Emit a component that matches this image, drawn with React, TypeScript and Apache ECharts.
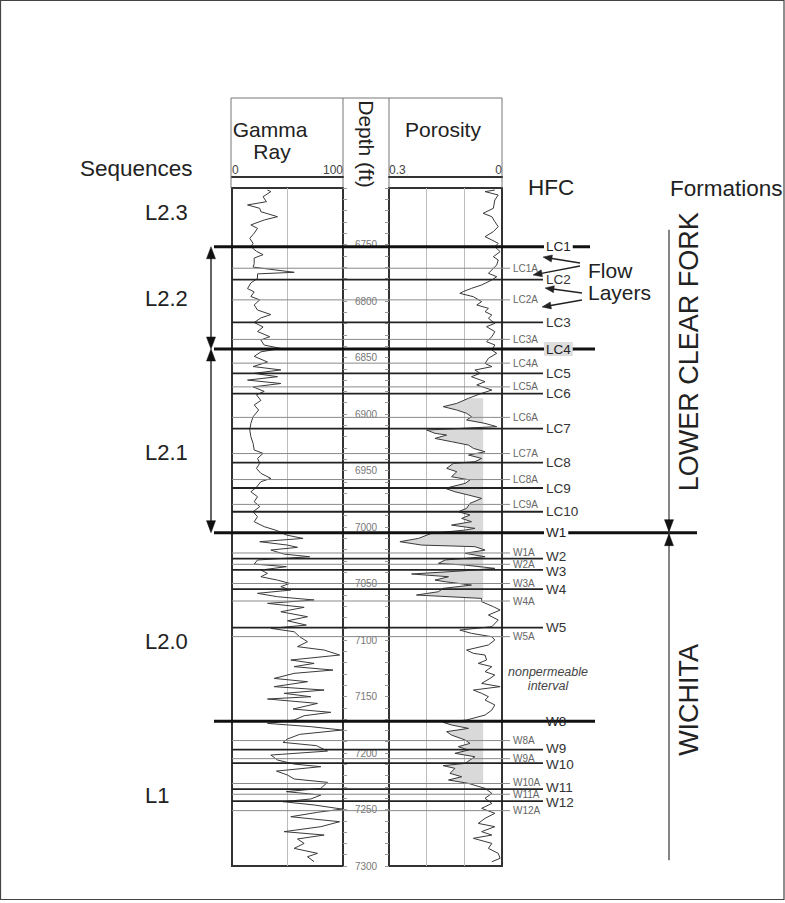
import { useEffect, useRef } from 'react';
import * as echarts from 'echarts';

// ---------------- data ----------------
const depthRange = [6700, 7300];
const depthTickLabels = [6750, 6800, 6850, 6900, 6950, 7000, 7050, 7100, 7150, 7200, 7250, 7300];
const gammaScale = [0, 100];
const porosityScale = [0.3, 0];

const gammaDepth = [
  6701.8, 6703.2, 6707.7, 6712.1, 6715, 6718, 6721, 6725.4, 6728.3, 6732.7,
  6735.7, 6740, 6744.5, 6749, 6752, 6756, 6759, 6762, 6767, 6770,
  6774.6, 6776, 6780, 6784, 6789, 6792, 6796, 6799, 6803.5, 6808,
  6812, 6815, 6819, 6823, 6827, 6831.6, 6834.5, 6839, 6842, 6845,
  6849, 6854, 6858, 6861, 6864, 6867, 6870, 6873, 6876, 6880,
  6883, 6888, 6892, 6896.5, 6902.4, 6908.3, 6914.2, 6920.1, 6926, 6931.9,
  6934.8, 6939.3, 6943.7, 6948.1, 6952.5, 6957, 6959.9, 6964.9, 6968.8, 6973.2,
  6977.6, 6982, 6986.5, 6990.9, 6995.3, 6999.7, 7003.3, 7007.1, 7010.1, 7013,
  7016, 7018, 7020.4, 7024, 7026.3, 7029.2, 7032.8, 7035.1, 7038.1, 7041,
  7044, 7047, 7049.9, 7052.8, 7055.8, 7058.7, 7061.7, 7064.6, 7067.6, 7071.1,
  7075, 7079.4, 7083, 7086.8, 7089.7, 7092.7, 7097.1, 7101.5, 7105.9, 7108.9,
  7113.3, 7117.7, 7120.7, 7123.6, 7126.6, 7129.5, 7134, 7136.9, 7141.3, 7144.3,
  7147.2, 7150.2, 7152.2, 7156.1, 7161.1, 7164, 7167, 7170.8, 7173.8, 7176.7,
  7179.7, 7183.5, 7187.6, 7190.6, 7193.5, 7198.3, 7201.8, 7206.2, 7209.8, 7212.1,
  7216, 7219.5, 7223, 7226, 7231.3, 7234.2, 7237.2, 7240.7, 7243.1, 7246,
  7249.6, 7252.5, 7256.4, 7260.8, 7265.2, 7269.6, 7272.6, 7276.1, 7280, 7284.4,
  7288.8, 7291.8, 7296.2,
];
const gammaApi = [
  32, 35, 28, 31, 14, 25, 26, 41, 29, 17,
  23, 20, 16, 19, 17, 22, 28, 20, 20, 19,
  56, 23, 23, 17, 14, 20, 17, 25, 20, 23,
  35, 26, 20, 28, 23, 34, 26, 29, 44, 26,
  20, 32, 19, 44, 20, 41, 14, 44, 19, 29,
  22, 26, 20, 24, 19, 17, 16, 17, 19, 20,
  28, 23, 25, 22, 26, 35, 26, 22, 17, 23,
  20, 25, 19, 23, 20, 29, 41, 49, 64, 25,
  50, 59, 35, 47, 70, 23, 20, 49, 26, 32,
  26, 41, 52, 44, 53, 23, 41, 74, 32, 65,
  44, 68, 50, 67, 35, 56, 61, 68, 59, 83,
  97, 53, 74, 56, 91, 56, 38, 68, 38, 83,
  47, 71, 32, 77, 55, 89, 65, 56, 32, 71,
  99, 61, 50, 46, 76, 86, 35, 41, 56, 80,
  40, 50, 56, 86, 80, 49, 80, 71, 46, 74,
  99, 77, 53, 97, 80, 47, 83, 59, 65, 56,
  77, 68, 74,
];

const porosityDepth = [
  6701.8, 6703.2, 6706.2, 6710.6, 6718, 6722.4, 6725.4, 6729.8, 6734.2, 6738.6,
  6743.1, 6746, 6749, 6752, 6756.3, 6760.8, 6763.7, 6768.1, 6775.5, 6778.5,
  6781.4, 6785.8, 6788.8, 6791.7, 6793.2, 6796.2, 6800.6, 6803.5, 6806.5, 6809.4,
  6812.4, 6815.3, 6819.8, 6822.7, 6827.1, 6831.6, 6836, 6838.9, 6843.4, 6846.3,
  6850.7, 6855.2, 6858.1, 6861.1, 6864, 6867, 6871.4, 6874.3, 6878.8, 6881.7,
  6886.1, 6890.6, 6893.5, 6896.5, 6899.4, 6902.4, 6905.3, 6908.3, 6911.2, 6914.2,
  6917.1, 6918.6, 6921.6, 6924.5, 6927.5, 6930.4, 6933.4, 6936.3, 6939.3, 6942.2,
  6943.7, 6948.1, 6951.1, 6955.5, 6958.4, 6961.4, 6965.8, 6968.8, 6971.7, 6974.7,
  6979.1, 6983.5, 6986.5, 6989.4, 6992.4, 6995.3, 6998.3, 7001.2, 7002.7, 7005.6,
  7010.1, 7013, 7016, 7017.4, 7020.4, 7023.3, 7026.3, 7029.2, 7032.2, 7033.7,
  7036.6, 7038.7, 7041.6, 7044, 7047, 7048.4, 7051.4, 7054.3, 7057.3, 7060.2,
  7063.2, 7066.1, 7070.5, 7073.5, 7077.9, 7082.3, 7088.2, 7091.2, 7094.1, 7097.1,
  7100, 7104.4, 7108.9, 7111.8, 7113.3, 7117.7, 7120.7, 7123.6, 7128, 7131,
  7134, 7138.4, 7141.3, 7144.3, 7147.2, 7150.2, 7153.1, 7157.5, 7162, 7166.4,
  7170.8, 7172.9, 7175.2, 7178.2, 7181.1, 7184.1, 7188.5, 7191.5, 7194.4, 7197.4,
  7200.3, 7203.3, 7206.2, 7209.2, 7211.2, 7213.6, 7218, 7221, 7223.9, 7226.9,
  7231.3, 7235.7, 7240.1, 7244.6, 7249, 7253.4, 7257.8, 7262.3, 7265.2, 7269.6,
  7272.6, 7275.5, 7280, 7284.4, 7288.8, 7293.2, 7296.2,
];
const porosityFrac = [
  0.019, 0.045, 0.010, 0.019, 0.023, 0.050, 0.027, 0.019, 0.010, 0.023,
  0.045, 0.027, 0.010, 0.019, 0.005, 0.023, 0.010, 0.014, 0.036, 0.014,
  0.027, 0.054, 0.081, 0.103, 0.112, 0.076, 0.054, 0.067, 0.036, 0.045,
  0.027, 0.036, 0.019, 0.041, 0.019, 0.027, 0.041, 0.019, 0.027, 0.014,
  0.036, 0.045, 0.027, 0.072, 0.058, 0.081, 0.045, 0.067, 0.027, 0.054,
  0.089, 0.120, 0.156, 0.120, 0.094, 0.081, 0.094, 0.045, 0.014, 0.200,
  0.178, 0.147, 0.178, 0.134, 0.089, 0.076, 0.045, 0.089, 0.054, 0.072,
  0.129, 0.147, 0.120, 0.134, 0.085, 0.098, 0.151, 0.125, 0.089, 0.054,
  0.085, 0.094, 0.116, 0.085, 0.107, 0.081, 0.134, 0.072, 0.098, 0.187,
  0.222, 0.271, 0.213, 0.072, 0.045, 0.098, 0.045, 0.151, 0.169, 0.098,
  0.019, 0.098, 0.240, 0.142, 0.178, 0.151, 0.081, 0.156, 0.169, 0.227,
  0.054, 0.054, 0.023, 0.005, 0.036, 0.010, 0.027, 0.112, 0.081, 0.027,
  0.019, 0.036, 0.094, 0.076, 0.045, 0.041, 0.063, 0.027, 0.045, 0.019,
  0.032, 0.054, 0.005, 0.076, 0.054, 0.036, 0.045, 0.019, 0.027, 0.045,
  0.094, 0.156, 0.134, 0.089, 0.147, 0.134, 0.098, 0.085, 0.116, 0.089,
  0.125, 0.072, 0.085, 0.098, 0.156, 0.125, 0.138, 0.107, 0.142, 0.089,
  0.045, 0.027, 0.045, 0.027, 0.054, 0.019, 0.045, 0.063, 0.019, 0.054,
  0.027, 0.076, 0.027, 0.036, 0.010, 0.005, 0.027,
];

const surfaceNames = [
  'LC1', 'LC1A', 'LC2', 'LC2A', 'LC3', 'LC3A', 'LC4', 'LC4A', 'LC5', 'LC5A',
  'LC6', 'LC6A', 'LC7', 'LC7A', 'LC8', 'LC8A', 'LC9', 'LC9A', 'LC10', 'W1',
  'W1A', 'W2', 'W2A', 'W3', 'W3A', 'W4', 'W4A', 'W5', 'W5A', 'W8',
  'W8A', 'W9', 'W9A', 'W10', 'W10A', 'W11', 'W11A', 'W12', 'W12A',
];
const surfaceDepths = [
  6752, 6771, 6781, 6799, 6819, 6834, 6842.5, 6855, 6864, 6876,
  6882, 6903, 6913, 6935, 6943, 6958, 6965.5, 6980, 6986.5, 7005,
  7023, 7028, 7033, 7038, 7050, 7055, 7065.5, 7089, 7097, 7172,
  7189, 7197, 7205, 7209, 7227, 7232, 7236.5, 7242.5, 7251,
];
const sequenceBoundaries = ['LC1', 'LC4', 'W1', 'W8'];
const sequenceArrowSpans = [['LC1', 'LC4'], ['LC4', 'W1']];
const sequenceNames = ['L2.3', 'L2.2', 'L2.1', 'L2.0', 'L1'];
const sequenceLabelDepths = [6722, 6798, 6934, 7101, 7238];
const formationNames = ['LOWER CLEAR FORK', 'WICHITA'];
const formationLabelDepths = [6845, 7153];
const formationBoundary = 'W1';
const formationSpan = [6737, 7295];
const shadedIntervals = [[6884, 7066], [7172, 7228]];
const porosityCutoff = 0.05;

// ---------------- layout / style ----------------
const FONT = "'Liberation Sans', Arial, Helvetica, sans-serif";
const PLOT_TOP = 188;
const PLOT_H = 678;
const GR_LEFT = 232, GR_W = 111;
const DEPTH_LEFT = 343, DEPTH_W = 46;
const POR_LEFT = 389, POR_W = 113;
const seqLineEnds = [590, 595, 697, 595];
const seqLabelBg = ['#ffffff', '#dedede', '#ffffff', undefined];
const labelNudge: Record<string, number> = { W2: -2, W3: 1.5, W9: -1.5, W10: 1.5, W11: -1.5, W12: 1.5, W10A: -1, W11A: 0.5 };

function head(tx: number, ty: number, dx: number, dy: number, len: number, hw: number, fill = '#111') {
  const nx = -dy, ny = dx;
  const bx = tx - dx * len, by = ty - dy * len;
  return {
    type: 'polygon',
    silent: true,
    shape: { points: [[tx, ty], [bx + nx * hw, by + ny * hw], [bx - nx * hw, by - ny * hw]] },
    style: { fill, stroke: fill, lineWidth: 0.5 },
  };
}

function txt(text: string, x: number, y: number, size: number, o: any = {}) {
  const align = o.align || 'left';
  return {
    type: 'text',
    x, y,
    rotation: o.rot || 0,
    silent: true,
    z: 20,
    style: {
      text,
      fill: o.fill || '#222',
      fontSize: size,
      fontFamily: FONT,
      fontStyle: o.italic ? 'italic' : 'normal',
      align, textAlign: align,
      verticalAlign: 'middle', textVerticalAlign: 'middle',
      backgroundColor: o.bg,
      padding: o.bg ? [0, 2] : 0,
    },
  };
}

const flowArrows = [
  [580, 263, 543, 257],
  [580, 266, 533, 275],
  [582, 293, 545, 288],
  [582, 300, 542, 307],
];

function buildOption(): any {
  const depthOf = (n: string) => surfaceDepths[surfaceNames.indexOf(n)];
  const gammaData = gammaDepth.map((d, i) => [gammaApi[i], d]);
  const porData = porosityDepth.map((d, i) => [porosityFrac[i], d]);

  const gridBox = { show: true, borderColor: '#333', borderWidth: 2, backgroundColor: 'transparent' };
  const yBase = { type: 'value', min: depthRange[0], max: depthRange[1], inverse: true };

  const graphic: any[] = [
    { type: 'rect', silent: true, shape: { x: 0.5, y: 0.5, width: 783.5, height: 899 }, style: { fill: 'none', stroke: '#444', lineWidth: 1.2 } },
    { type: 'line', silent: true, shape: { x1: 231, y1: 98, x2: 502, y2: 98 }, style: { stroke: '#777', lineWidth: 1 } },
    ...[231, 343, 389, 502].map((x) => ({ type: 'line', silent: true, shape: { x1: x, y1: 98, x2: x, y2: PLOT_TOP }, style: { stroke: '#777', lineWidth: 1 } })),
    txt('Sequences', 80, 168, 22.5),
    txt('HFC', 528, 187, 22.5),
    txt('Formations', 670, 188, 22.5),
    txt('Gamma', 270, 129, 21, { align: 'center' }),
    txt('Ray', 272, 151, 21, { align: 'center' }),
    txt('Porosity', 443, 129, 21, { align: 'center' }),
    txt('Depth (ft)', 366, 144, 21, { align: 'center', rot: -Math.PI / 2 }),
    txt('Flow', 588, 270, 21),
    txt('Layers', 588, 292, 21),
    txt('nonpermeable', 548, 672, 12.5, { align: 'center', italic: true, fill: '#444' }),
    txt('interval', 548, 686, 12.5, { align: 'center', italic: true, fill: '#444' }),
  ];
  flowArrows.forEach(([x1, y1, x2, y2]) => {
    const L = Math.hypot(x2 - x1, y2 - y1);
    const dx = (x2 - x1) / L, dy = (y2 - y1) / L;
    graphic.push({ type: 'line', silent: true, shape: { x1, y1, x2: x2 - dx * 6, y2: y2 - dy * 6 }, style: { stroke: '#222', lineWidth: 1.4 } });
    graphic.push(head(x2, y2, dx, dy, 9, 3.5, '#222'));
  });

  return {
    animation: false,
    backgroundColor: '#ffffff',
    grid: [
      { left: GR_LEFT, top: PLOT_TOP, width: GR_W, height: PLOT_H, ...gridBox },
      { left: DEPTH_LEFT, top: PLOT_TOP, width: DEPTH_W, height: PLOT_H, show: false },
      { left: POR_LEFT, top: PLOT_TOP, width: POR_W, height: PLOT_H, ...gridBox },
      { left: 0, top: PLOT_TOP, width: 785, height: PLOT_H, show: false },
    ],
    xAxis: [
      {
        gridIndex: 0, type: 'value', min: 0, max: 100, interval: 50, position: 'top', offset: 11,
        axisLine: { show: true, onZero: false, lineStyle: { color: '#333', width: 2 } },
        axisTick: { show: false },
        axisLabel: {
          margin: 1, fontSize: 12, color: '#444', fontFamily: FONT,
          alignMinLabel: 'left', alignMaxLabel: 'right',
          formatter: (v: number) => (gammaScale.includes(v) ? String(v) : ''),
        },
        splitLine: { show: true, showMinLine: false, showMaxLine: false, lineStyle: { color: '#bdbdbd', width: 1 } },
      },
      { gridIndex: 1, type: 'value', min: 0, max: 1, show: false },
      {
        gridIndex: 2, type: 'value', min: 0, max: 0.3, interval: 0.1, inverse: true, position: 'top', offset: 11,
        axisLine: { show: true, onZero: false, lineStyle: { color: '#333', width: 2 } },
        axisTick: { show: false },
        axisLabel: {
          margin: 1, fontSize: 12, color: '#444', fontFamily: FONT,
          alignMinLabel: 'right', alignMaxLabel: 'left',
          formatter: (v: number) => {
            const m = porosityScale.find((s) => Math.abs(s - v) < 1e-6);
            return m === undefined ? '' : String(m);
          },
        },
        splitLine: { show: true, showMinLine: false, showMaxLine: false, lineStyle: { color: '#bdbdbd', width: 1 } },
      },
      { gridIndex: 3, type: 'value', min: 0, max: 785, show: false },
    ],
    yAxis: [
      { gridIndex: 0, ...yBase, show: false },
      {
        gridIndex: 1, ...yBase, interval: 50, position: 'left',
        axisLine: { show: false },
        splitLine: { show: false },
        axisTick: { show: true, inside: true, length: 4, lineStyle: { color: '#999' } },
        minorTick: { show: true, splitNumber: 5, length: 4, lineStyle: { color: '#999' } },
        axisLabel: {
          inside: true, margin: 23, align: 'center', color: '#777', fontSize: 10, fontFamily: FONT,
          formatter: (v: number) => (depthTickLabels.includes(v) ? String(v) : ''),
        },
      },
      {
        gridIndex: 1, ...yBase, interval: 50, position: 'right',
        axisLine: { show: false },
        splitLine: { show: false },
        axisTick: { show: true, inside: true, length: 4, lineStyle: { color: '#999' } },
        minorTick: { show: true, splitNumber: 5, length: 4, lineStyle: { color: '#999' } },
        axisLabel: { show: false },
      },
      { gridIndex: 2, ...yBase, show: false },
      { gridIndex: 3, ...yBase, show: false },
    ],
    graphic,
    series: [
      {
        type: 'custom', name: 'pay', xAxisIndex: 2, yAxisIndex: 3, z: 1, silent: true,
        data: shadedIntervals.map((iv, i) => [porosityCutoff, iv[0], i]),
        renderItem: (_p: any, api: any) => {
          const [a, b] = shadedIntervals[api.value(2)];
          const pts: number[][] = [];
          let first = -1, last = -1;
          porosityDepth.forEach((d, k) => {
            if (d >= a && d <= b) {
              if (first < 0) first = d;
              last = d;
              pts.push(api.coord([Math.max(porosityFrac[k], porosityCutoff), d]));
            }
          });
          pts.unshift(api.coord([porosityCutoff, first]));
          pts.push(api.coord([porosityCutoff, last]));
          return { type: 'polygon', shape: { points: pts }, style: { fill: '#d9d9d9' } };
        },
      },
      {
        type: 'line', name: 'Gamma Ray', xAxisIndex: 0, yAxisIndex: 0, z: 3,
        data: gammaData, showSymbol: false, symbol: 'none',
        lineStyle: { color: '#3a3a3a', width: 1 },
      },
      {
        type: 'line', name: 'Porosity', xAxisIndex: 2, yAxisIndex: 3, z: 3,
        data: porData, showSymbol: false, symbol: 'none',
        lineStyle: { color: '#3a3a3a', width: 1 },
      },
      {
        type: 'custom', name: 'HFC', xAxisIndex: 3, yAxisIndex: 4, z: 5, silent: true,
        data: surfaceNames.map((_n, i) => [0, surfaceDepths[i], i]),
        renderItem: (_p: any, api: any) => {
          const i = api.value(2);
          const name = surfaceNames[i];
          const y = api.coord([0, api.value(1)])[1];
          const isFlow = /A$/.test(name);
          const s = sequenceBoundaries.indexOf(name);
          let x1 = GR_LEFT, x2: number, lw: number, stroke: string, lx: number, fs: number, fill: string, bg: any;
          if (s >= 0) {
            x1 = 214; x2 = seqLineEnds[s]; lw = 3; stroke = '#111'; lx = seqLabelBg[s] ? 544 : 546; fs = 13.5; fill = '#222'; bg = seqLabelBg[s];
          } else if (isFlow) {
            x2 = 510; lw = 1; stroke = '#8a8a8a'; lx = 513; fs = 10; fill = '#666';
          } else {
            x2 = 543; lw = 1.8; stroke = '#222'; lx = 546; fs = 13.5; fill = '#333';
          }
          const ly = y + (labelNudge[name] || 0);
          return {
            type: 'group',
            children: [
              { type: 'line', shape: { x1, y1: y, x2, y2: y }, style: { stroke, lineWidth: lw } },
              txt(name, lx, ly, fs, { fill, bg }),
            ],
          };
        },
      },
      {
        type: 'custom', name: 'sequence arrows', xAxisIndex: 3, yAxisIndex: 4, z: 5, silent: true,
        data: sequenceArrowSpans.map((sp, i) => [0, depthOf(sp[0]), i]),
        renderItem: (_p: any, api: any) => {
          const sp = sequenceArrowSpans[api.value(2)];
          const yA = api.coord([0, depthOf(sp[0])])[1];
          const yB = api.coord([0, depthOf(sp[1])])[1];
          const x = 211;
          return {
            type: 'group',
            children: [
              { type: 'line', shape: { x1: x, y1: yA + 6, x2: x, y2: yB - 6 }, style: { stroke: '#111', lineWidth: 1.3 } },
              head(x, yA, 0, -1, 12, 4.5),
              head(x, yB, 0, 1, 12, 4.5),
            ],
          };
        },
      },
      {
        type: 'custom', name: 'sequences', xAxisIndex: 3, yAxisIndex: 4, z: 5, silent: true,
        data: sequenceNames.map((_n, i) => [0, sequenceLabelDepths[i], i]),
        renderItem: (_p: any, api: any) => {
          const y = api.coord([0, api.value(1)])[1];
          return txt(sequenceNames[api.value(2)], 145, y, 22);
        },
      },
      {
        type: 'custom', name: 'formation line', xAxisIndex: 3, yAxisIndex: 4, z: 5, silent: true,
        data: [[0, formationSpan[0], 0]],
        renderItem: (_p: any, api: any) => {
          const yT = api.coord([0, formationSpan[0]])[1];
          const yBt = api.coord([0, formationSpan[1]])[1];
          const yW = api.coord([0, depthOf(formationBoundary)])[1];
          const x = 669;
          return {
            type: 'group',
            children: [
              { type: 'line', shape: { x1: x, y1: yT, x2: x, y2: yBt }, style: { stroke: '#444', lineWidth: 1.3 } },
              head(x, yW - 1, 0, 1, 12, 4.5),
              head(x, yW + 1, 0, -1, 12, 4.5),
            ],
          };
        },
      },
      {
        type: 'custom', name: 'formations', xAxisIndex: 3, yAxisIndex: 4, z: 5, silent: true,
        data: formationNames.map((_n, i) => [0, formationLabelDepths[i], i]),
        renderItem: (_p: any, api: any) => {
          const y = api.coord([0, api.value(1)])[1];
          return txt(formationNames[api.value(2)], 689, y, 27, { align: 'center', rot: Math.PI / 2 });
        },
      },
    ],
  };
}

export default function App() {
  const ref = useRef<HTMLDivElement>(null);
  useEffect(() => {
    if (!ref.current) return;
    const chart = echarts.init(ref.current, null, { renderer: 'svg' });
    chart.setOption(buildOption());
    return () => chart.dispose();
  }, []);
  return (
    <div
      ref={ref}
      style={{ position: 'fixed', left: 0, top: 0, width: 785, height: 903, background: '#fff' }}
    />
  );
}
